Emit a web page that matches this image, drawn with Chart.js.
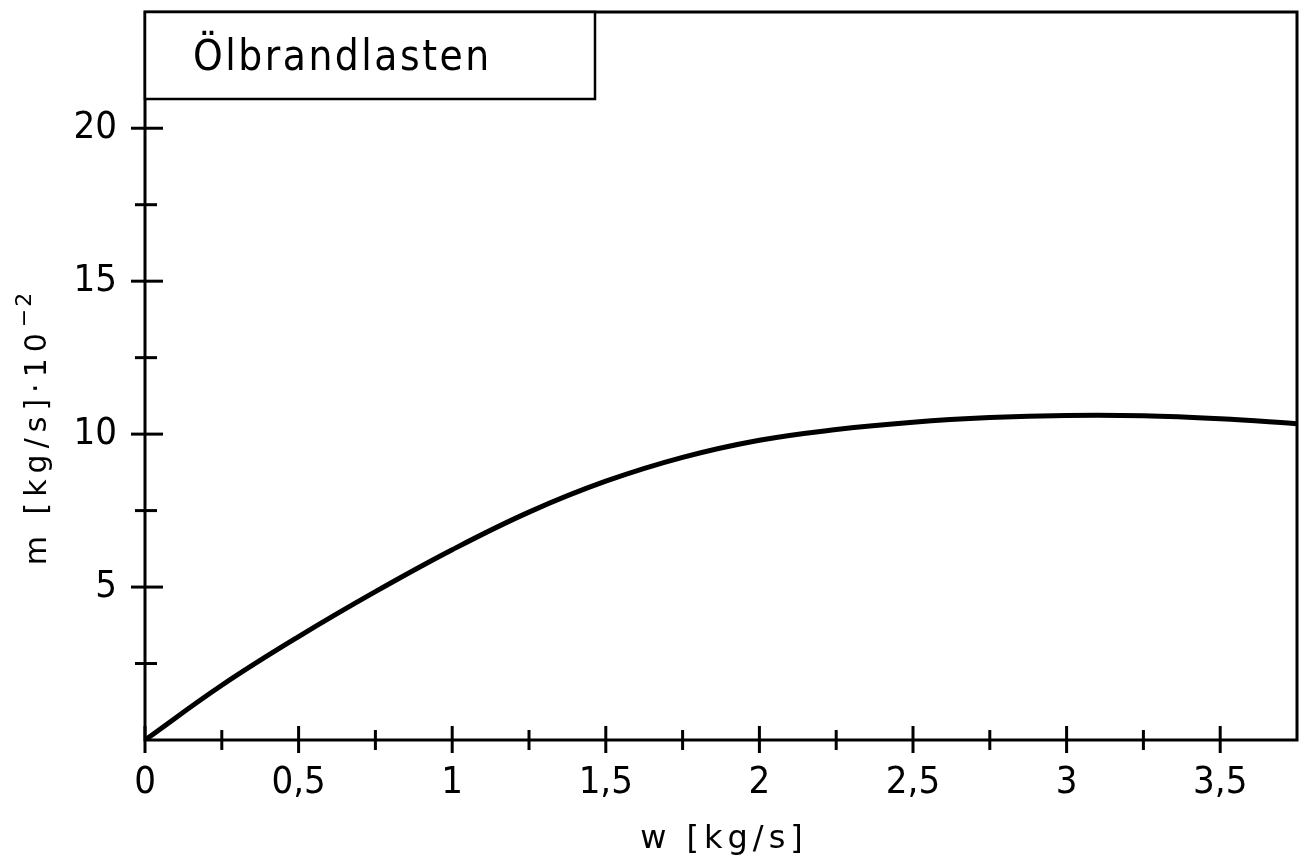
<!DOCTYPE html>
<html>
<head>
<meta charset="utf-8">
<title>Ölbrandlasten</title>
<script src="https://cdn.jsdelivr.net/npm/chart.js@4/dist/chart.umd.min.js"></script>
<style>
  html, body { margin: 0; padding: 0; background: #fff; }
  canvas { display: block; }
</style>
</head>
<body>
<canvas id="myChart" width="1302" height="864"></canvas>
<script>
// curve (w in kg/s, m in kg/s * 10^-2)
const wValues = [0, 0.25, 0.5, 0.75, 1, 1.25, 1.5, 1.75, 2, 2.25, 2.5, 2.75, 3, 3.25, 3.5, 3.75];
const mValues = [0, 1.79, 3.38, 4.85, 6.22, 7.45, 8.46, 9.24, 9.8, 10.15, 10.39, 10.54, 10.61, 10.6, 10.5, 10.34];

// tick marks
const xMajor = [0, 0.5, 1, 1.5, 2, 2.5, 3, 3.5];
const xMinor = [0.25, 0.75, 1.25, 1.75, 2.25, 2.75, 3.25];
const yMajor = [5, 10, 15, 20];
const yMinor = [2.5, 7.5, 12.5, 17.5];

const boxTitle = 'Ölbrandlasten';
const xTitle = 'w [kg/s]';
const yTitle = 'm [kg/s]·10';
const yTitleExp = '−2';

const labelFont = '"Liberation Sans Narrow", "DejaVu Sans Condensed", "DejaVu Sans", sans-serif';
const textFont = '"DejaVu Sans", sans-serif';

function line(ctx, x1, y1, x2, y2) {
    ctx.beginPath();
    ctx.moveTo(x1, y1);
    ctx.lineTo(x2, y2);
    ctx.stroke();
}

// frame, ticks crossing the axes, title box and axis titles
const drawing = {
    id: 'drawing',
    afterDraw(chart) {
        const ctx = chart.ctx;
        const a = chart.chartArea;
        const x = chart.scales.x;
        const y = chart.scales.y;
        ctx.save();
        ctx.strokeStyle = '#000';
        ctx.fillStyle = '#000';
        ctx.lineWidth = 3;
        ctx.lineCap = 'butt';
        ctx.strokeRect(a.left, a.top, a.right - a.left, a.bottom - a.top);

        xMajor.forEach(v => { const p = x.getPixelForValue(v); line(ctx, p, a.bottom - 14, p, a.bottom + 13); });
        xMinor.forEach(v => { const p = x.getPixelForValue(v); line(ctx, p, a.bottom - 10, p, a.bottom + 10); });
        yMajor.forEach(v => { const p = y.getPixelForValue(v); line(ctx, a.left - 14, p, a.left + 18, p); });
        yMinor.forEach(v => { const p = y.getPixelForValue(v); line(ctx, a.left - 10, p, a.left + 12, p); });

        // title box in the upper left corner
        ctx.lineWidth = 2.5;
        ctx.fillStyle = '#fff';
        ctx.fillRect(a.left, a.top, 450, 87);
        ctx.strokeRect(a.left, a.top, 450, 87);
        ctx.fillStyle = '#000';
        ctx.font = '42px "DejaVu Sans Condensed", "DejaVu Sans", sans-serif';
        ctx.letterSpacing = '2.5px';
        ctx.textAlign = 'left';
        ctx.textBaseline = 'alphabetic';
        ctx.fillText(boxTitle, a.left + 48, a.top + 58);

        // axis titles
        ctx.font = '32px ' + textFont;
        ctx.letterSpacing = '5px';
        ctx.textAlign = 'center';
        ctx.textBaseline = 'middle';
        ctx.fillText(xTitle, (a.left + a.right) / 2 + 3, a.bottom + 100);

        ctx.font = '30px ' + textFont;
        ctx.letterSpacing = '6px';
        const w1 = ctx.measureText(yTitle).width;
        ctx.font = '22px ' + textFont;
        ctx.letterSpacing = '2px';
        const w2 = ctx.measureText(yTitleExp).width;
        const start = -(w1 + w2) / 2;
        ctx.translate(38, (a.top + a.bottom) / 2 + 52);
        ctx.rotate(-Math.PI / 2);
        ctx.textAlign = 'left';
        ctx.font = '30px ' + textFont;
        ctx.letterSpacing = '6px';
        ctx.fillText(yTitle, start, 0);
        ctx.font = '22px ' + textFont;
        ctx.letterSpacing = '2px';
        ctx.fillText(yTitleExp, start + w1, -13);
        ctx.restore();
    }
};

const ctx = document.getElementById('myChart').getContext('2d');
const myChart = new Chart(ctx, {
    type: 'line',
    data: {
        labels: wValues,
        datasets: [{
            label: 'Ölbrandlasten',
            data: wValues.map((w, i) => ({ x: w, y: mValues[i] })),
            borderColor: '#000',
            borderWidth: 5,
            pointRadius: 0,
            tension: 0.4,
            fill: false
        }]
    },
    options: {
        responsive: false,
        animation: false,
        layout: { padding: { top: 12, right: 5, left: 0, bottom: 0 } },
        plugins: {
            legend: { display: false },
            tooltip: { enabled: false }
        },
        scales: {
            x: {
                type: 'linear',
                min: 0,
                max: 3.75,
                grid: { display: false, drawTicks: false },
                border: { display: false },
                afterBuildTicks: scale => { scale.ticks = xMajor.map(v => ({ value: v })); },
                afterFit: scale => {
                    scale.height = 124;
                    scale.paddingLeft = 0;
                    scale.paddingRight = 0;
                },
                ticks: {
                    autoSkip: false,
                    maxRotation: 0,
                    padding: 20,
                    color: '#000',
                    font: { family: labelFont, size: 38 },
                    callback: v => String(v).replace('.', ',')
                }
            },
            y: {
                type: 'linear',
                min: 0,
                max: 23.8,
                grid: { display: false, drawTicks: false },
                border: { display: false },
                afterBuildTicks: scale => { scale.ticks = yMajor.map(v => ({ value: v })); },
                afterFit: scale => {
                    scale.width = 145;
                    scale.paddingTop = 0;
                    scale.paddingBottom = 0;
                },
                ticks: {
                    autoSkip: false,
                    padding: 28,
                    color: '#000',
                    font: { family: labelFont, size: 38 },
                    callback: v => String(v)
                }
            }
        }
    },
    plugins: [drawing]
});
</script>
</body>
</html>
